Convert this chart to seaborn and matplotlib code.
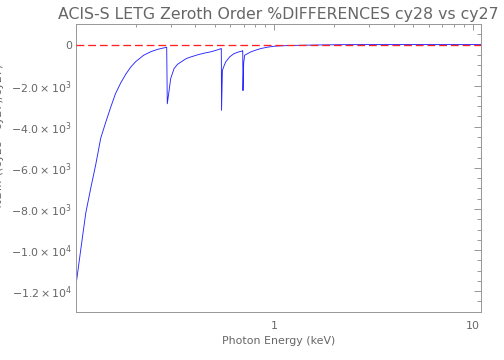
import matplotlib
matplotlib.use("Agg")
import matplotlib.pyplot as plt
import matplotlib.ticker as mticker
import seaborn as sns
import numpy as np

# photon energy (keV) and percent difference
energy = [0.100, 0.1056, 0.112, 0.1186, 0.1257, 0.1332, 0.141, 0.1496, 0.158, 0.168,
          0.178, 0.1886, 0.200, 0.2193, 0.238, 0.2584, 0.2838, 0.2865, 0.2885, 0.295,
          0.300, 0.312, 0.325, 0.338, 0.36, 0.38, 0.41, 0.442, 0.48, 0.516,
          0.538, 0.540, 0.5415, 0.547, 0.557, 0.568, 0.595, 0.626, 0.66, 0.69,
          0.6925, 0.6945, 0.700, 0.708, 0.73, 0.76, 0.80, 0.853, 0.92, 1.0,
          1.12, 1.36, 1.71, 2.2, 3.0, 5.0, 11.0]
pct_diff = [-11700, -10000, -8200, -7000, -5850, -4560, -3800, -3050, -2400, -1870,
            -1450, -1100, -830, -520, -350, -230, -140, -130, -2880, -2200,
            -1660, -1170, -960, -850, -680, -600, -500, -420, -350, -260,
            -200, -195, -3200, -1250, -1050, -850, -600, -440, -360, -310,
            -300, -2240, -900, -520, -450, -360, -280, -195, -130, -80,
            -55, -35, -18, -5, 0, 0, 0]

title = "ACIS-S LETG Zeroth Order %DIFFERENCES cy28 vs cy27"
xlabel = "Photon Energy (keV)"
ylabel = "%Diff ((cy28 - cy27)/cy27)"

sns.set_style("white")
plt.rcParams['font.family'] = ['DejaVu Sans']

axis_col = "#9a9a9a"
text_col = "#666666"

fig = plt.figure(figsize=(7, 5), dpi=72)
ax = fig.add_axes([76 / 504, 1 - 311.7 / 360, 405 / 504, 287.7 / 360])

sns.lineplot(x=energy, y=pct_diff, color="#2626ff", lw=0.9, ax=ax, zorder=2)
ax.axhline(0, color="#ff2020", lw=1.3, ls=(0, (6, 3)), zorder=3)

ax.set_xscale("log")
ax.set_xlim(0.1, 11)
ax.set_ylim(-13000, 1000)

ax.xaxis.set_major_locator(mticker.FixedLocator([1, 10]))
ax.xaxis.set_minor_locator(mticker.LogLocator(base=10, subs=np.arange(2, 10)))
ax.xaxis.set_major_formatter(mticker.FuncFormatter(lambda v, p: f"{v:g}"))
ax.xaxis.set_minor_formatter(mticker.NullFormatter())


def sci_fmt(v, p):
    if v == 0:
        return "0"
    e = int(np.floor(np.log10(abs(v))))
    m = v / 10 ** e
    sign = "-" if m < 0 else ""
    return rf"${sign}{abs(m):.1f}\times10^{{{e}}}$"


ax.yaxis.set_major_locator(mticker.MultipleLocator(2000))
ax.yaxis.set_minor_locator(mticker.MultipleLocator(500))
ax.yaxis.set_major_formatter(mticker.FuncFormatter(sci_fmt))

for s in ax.spines.values():
    s.set_color(axis_col)
    s.set_linewidth(1.0)

ax.tick_params(which="both", direction="in", top=True, right=True,
               color=axis_col, labelcolor=text_col, labelsize=11)
ax.tick_params(axis="y", which="major", length=7, width=1, pad=4)
ax.tick_params(axis="y", which="minor", length=4, width=1)
ax.tick_params(axis="x", which="major", length=6, width=1, pad=9)
ax.tick_params(axis="x", which="minor", length=3, width=1)

ax.set_title(title, color=text_col, fontsize=15.8, pad=5)
ax.set_xlabel(xlabel, color=text_col, fontsize=11, labelpad=5)
fig.text(-0.012, 0.62, ylabel, rotation=90, color=text_col, fontsize=11,
         ha="left", va="center")

fig.savefig("out.png", dpi=72)
